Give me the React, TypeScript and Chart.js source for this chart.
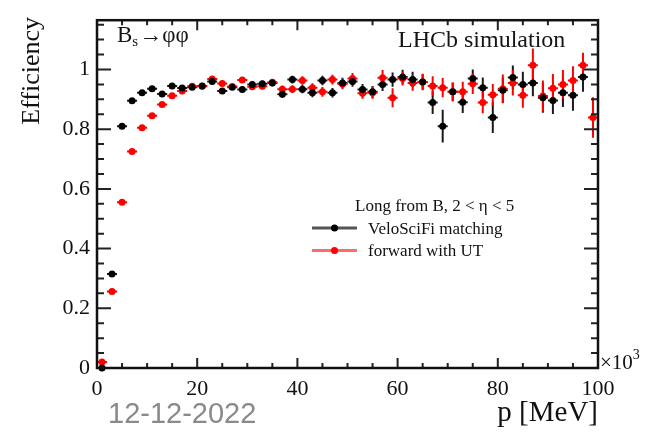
import React, { useEffect, useRef } from 'react';
import { Chart, registerables } from 'chart.js';
Chart.register(...registerables);

// Bin centres of p (in units of 10^3 MeV)
const binCenters = [1, 3, 5, 7, 9, 11, 13, 15, 17, 19, 21, 23, 25, 27, 29, 31, 33, 35, 37, 39, 41, 43, 45, 47, 49, 51, 53, 55, 57, 59, 61, 63, 65, 67, 69, 71, 73, 75, 77, 79, 81, 83, 85, 87, 89, 91, 93, 95, 97, 99];
const binHalfWidth = 1;

// VeloSciFi matching (black)
const veloSciFi: (number | null)[] = [0.0, 0.315, 0.81, 0.895, 0.922, 0.935, 0.918, 0.945, 0.938, 0.94, 0.945, 0.96, 0.928, 0.94, 0.933, 0.95, 0.952, 0.955, 0.917, 0.966, 0.934, 0.922, 0.963, 0.922, 0.955, 0.96, 0.933, 0.925, 0.95, 0.966, 0.975, 0.966, 0.958, 0.889, 0.81, 0.925, 0.89, 0.97, 0.939, 0.839, 0.93, 0.973, 0.95, 0.955, 0.905, 0.896, 0.922, 0.914, 0.975, null];
const veloSciFiErr = [0.002, 0.004, 0.004, 0.004, 0.004, 0.004, 0.005, 0.005, 0.006, 0.006, 0.007, 0.007, 0.008, 0.008, 0.009, 0.01, 0.01, 0.011, 0.012, 0.013, 0.014, 0.015, 0.016, 0.016, 0.017, 0.018, 0.018, 0.02, 0.022, 0.024, 0.024, 0.026, 0.026, 0.038, 0.055, 0.03, 0.036, 0.03, 0.034, 0.052, 0.042, 0.04, 0.042, 0.045, 0.05, 0.045, 0.048, 0.052, 0.05, 0.055];

// forward with UT (red)
const forwardUT: (number | null)[] = [0.02, 0.256, 0.555, 0.725, 0.805, 0.845, 0.883, 0.912, 0.928, 0.944, 0.944, 0.968, 0.953, 0.943, 0.965, 0.942, 0.944, 0.957, 0.934, 0.934, 0.963, 0.939, 0.925, 0.966, 0.951, 0.97, 0.92, 0.922, 0.972, 0.905, 0.97, 0.955, 0.958, 0.945, 0.939, 0.925, 0.925, 0.952, 0.889, 0.915, 0.935, 0.955, 0.914, 1.014, 0.911, 0.937, 0.95, 0.963, 1.014, 0.839];
const forwardUTErr = [0.005, 0.004, 0.004, 0.004, 0.004, 0.004, 0.005, 0.005, 0.006, 0.006, 0.007, 0.007, 0.008, 0.008, 0.009, 0.01, 0.01, 0.011, 0.012, 0.013, 0.014, 0.015, 0.016, 0.016, 0.017, 0.018, 0.018, 0.02, 0.026, 0.032, 0.024, 0.026, 0.028, 0.032, 0.032, 0.032, 0.034, 0.034, 0.036, 0.036, 0.048, 0.042, 0.042, 0.056, 0.052, 0.048, 0.048, 0.048, 0.042, 0.068];

const xTickValues = [0, 20, 40, 60, 80, 100];
const xMinorTicks = [0, 5, 10, 15, 20, 25, 30, 35, 40, 45, 50, 55, 60, 65, 70, 75, 80, 85, 90, 95, 100];
const yTickValues = [0, 0.2, 0.4, 0.6, 0.8, 1];
const yTickLabels = ['0', '0.2', '0.4', '0.6', '0.8', '1'];
const yMinorTicks = [0, 0.05, 0.1, 0.15, 0.2, 0.25, 0.3, 0.35, 0.4, 0.45, 0.5, 0.55, 0.6, 0.65, 0.7, 0.75, 0.8, 0.85, 0.9, 0.95, 1, 1.05, 1.1, 1.15];

const seriesNames = ['VeloSciFi matching', 'forward with UT'];
const legendHeader = 'Long from B, 2 < \u03b7 < 5';

const SERIF = '"Liberation Serif", "Times New Roman", serif';

const series = [
  { name: seriesNames[0], values: veloSciFi, errs: veloSciFiErr, color: '#000000', barColor: '#1a1a1a', legendLine: '#555555' },
  { name: seriesNames[1], values: forwardUT, errs: forwardUTErr, color: '#ff0000', barColor: '#ff0000', legendLine: '#ff6a6a' },
];

const hepPlugin = {
  id: 'hepStyle',
  beforeDatasetsDraw(chart: any) {
    const { ctx, chartArea } = chart;
    const xs = chart.scales.x;
    const ys = chart.scales.y;
    ctx.save();
    ctx.beginPath();
    ctx.rect(chartArea.left, chartArea.top, chartArea.right - chartArea.left, chartArea.bottom - chartArea.top);
    ctx.clip();
    series.forEach((s) => {
      ctx.strokeStyle = s.barColor;
      ctx.lineWidth = 2;
      binCenters.forEach((x, i) => {
        const v = s.values[i];
        if (v === null || v === undefined) return;
        const e = s.errs[i];
        const px = xs.getPixelForValue(x);
        const py = ys.getPixelForValue(v);
        ctx.beginPath();
        ctx.moveTo(xs.getPixelForValue(x - binHalfWidth), py);
        ctx.lineTo(xs.getPixelForValue(x + binHalfWidth), py);
        ctx.moveTo(px, ys.getPixelForValue(v - e));
        ctx.lineTo(px, ys.getPixelForValue(v + e));
        ctx.stroke();
      });
    });
    ctx.restore();
  },
  afterDraw(chart: any) {
    const { ctx, chartArea } = chart;
    const xs = chart.scales.x;
    const ys = chart.scales.y;
    const { left, right, top, bottom } = chartArea;
    ctx.save();
    // ticks (inward)
    ctx.strokeStyle = '#222';
    ctx.lineWidth = 2;
    xMinorTicks.forEach((v) => {
      const major = xTickValues.includes(v);
      const px = xs.getPixelForValue(v);
      const len = major ? 10 : 5;
      ctx.beginPath();
      ctx.moveTo(px, bottom);
      ctx.lineTo(px, bottom - len);
      ctx.moveTo(px, top);
      ctx.lineTo(px, top + len);
      ctx.stroke();
    });
    yMinorTicks.forEach((v) => {
      const major = yTickValues.some((t) => Math.abs(t - v) < 1e-6);
      const py = ys.getPixelForValue(v);
      const len = major ? 14 : 7;
      ctx.beginPath();
      ctx.moveTo(left, py);
      ctx.lineTo(left + len, py);
      ctx.moveTo(right, py);
      ctx.lineTo(right - len, py);
      ctx.stroke();
    });
    // frame
    ctx.strokeStyle = '#111';
    ctx.lineWidth = 2.5;
    ctx.strokeRect(left, top, right - left, bottom - top);

    // axis titles
    ctx.fillStyle = '#111';
    ctx.font = `26px ${SERIF}`;
    ctx.save();
    ctx.translate(32, 17);
    ctx.rotate(-Math.PI / 2);
    ctx.textAlign = 'right';
    ctx.textBaseline = 'middle';
    ctx.fillText('Efficiency', 0, 0);
    ctx.restore();

    ctx.font = `29px ${SERIF}`;
    ctx.textAlign = 'right';
    ctx.textBaseline = 'alphabetic';
    ctx.fillText('p [MeV]', right, 421);

    ctx.textAlign = 'left';
    ctx.font = `21px ${SERIF}`;
    ctx.fillText('\u00d710', right + 2, 369);
    const w10 = ctx.measureText('\u00d710').width;
    ctx.font = `14px ${SERIF}`;
    ctx.fillText('3', right + 2 + w10, 359);

    // date stamp
    ctx.fillStyle = '#8a8a8a';
    ctx.font = '29px "Liberation Sans", Arial, sans-serif';
    ctx.fillText('12-12-2022', 108, 423);

    // decay label
    ctx.fillStyle = '#151515';
    ctx.font = `23px ${SERIF}`;
    ctx.fillText('B', 117, 42);
    const wB = ctx.measureText('B').width;
    ctx.font = `15px ${SERIF}`;
    ctx.fillText('s', 117 + wB, 46);
    const ws = ctx.measureText('s').width;
    ctx.font = `23px ${SERIF}`;
    ctx.fillText('\u2192\u03c6\u03c6', 117 + wB + ws + 1, 42);

    // LHCb simulation
    ctx.font = `24px ${SERIF}`;
    ctx.fillText('LHCb simulation', 398, 47);

    // legend
    ctx.font = `17px ${SERIF}`;
    ctx.fillStyle = '#111';
    ctx.fillText(legendHeader, 355, 211);
    series.forEach((s, i) => {
      const y = 228 + i * 22.5;
      ctx.strokeStyle = s.legendLine;
      ctx.lineWidth = 3;
      ctx.beginPath();
      ctx.moveTo(312, y);
      ctx.lineTo(357, y);
      ctx.stroke();
      ctx.fillStyle = s.color;
      ctx.beginPath();
      ctx.arc(334.5, y, 3.5, 0, Math.PI * 2);
      ctx.fill();
      ctx.fillStyle = '#111';
      ctx.fillText(s.name, 368, y + 5.5);
    });
    ctx.restore();
  },
};

export default function App() {
  const ref = useRef<HTMLCanvasElement>(null);
  useEffect(() => {
    document.body.style.margin = '0';
    const datasets = series.map((s) => ({
      label: s.name,
      data: binCenters
        .map((x, i) => ({ x, y: s.values[i] }))
        .filter((p) => p.y !== null) as { x: number; y: number }[],
      pointRadius: 3.5,
      pointHoverRadius: 3.5,
      pointBackgroundColor: s.color,
      pointBorderColor: s.color,
      pointBorderWidth: 0,
      showLine: false,
      clip: false as any,
    }));
    const chart = new Chart(ref.current!, {
      type: 'scatter',
      data: { datasets },
      options: {
        responsive: false,
        animation: false,
        devicePixelRatio: 1,
        layout: { padding: { left: 0, right: 55, top: 16, bottom: 0 } },
        plugins: { legend: { display: false }, tooltip: { enabled: false } },
        scales: {
          x: {
            type: 'linear',
            min: 0,
            max: 100,
            grid: { display: false, drawTicks: false },
            border: { display: false },
            afterBuildTicks: (s: any) => {
              s.ticks = xTickValues.map((v) => ({ value: v }));
            },
            afterFit: (s: any) => {
              s.height = 65;
            },
            ticks: {
              font: { family: SERIF, size: 22 },
              color: '#111',
              padding: 8,
              maxRotation: 0,
              autoSkip: false,
              callback: (v: any) => String(v),
            },
          },
          y: {
            type: 'linear',
            min: 0,
            max: 1.165,
            grid: { display: false, drawTicks: false },
            border: { display: false },
            afterBuildTicks: (s: any) => {
              s.ticks = yTickValues.map((v) => ({ value: v }));
            },
            afterFit: (s: any) => {
              s.width = 97;
            },
            ticks: {
              font: { family: SERIF, size: 22 },
              color: '#111',
              padding: 7,
              autoSkip: false,
              callback: (v: any) => {
                const idx = yTickValues.findIndex((t) => Math.abs(t - v) < 1e-6);
                return idx >= 0 ? yTickLabels[idx] : '';
              },
            },
          },
        },
      },
      plugins: [hepPlugin],
    });
    return () => chart.destroy();
  }, []);
  return (
    <div style={{ width: 653, height: 433 }}>
      <canvas ref={ref} width={653} height={433} style={{ display: 'block' }} />
    </div>
  );
}
